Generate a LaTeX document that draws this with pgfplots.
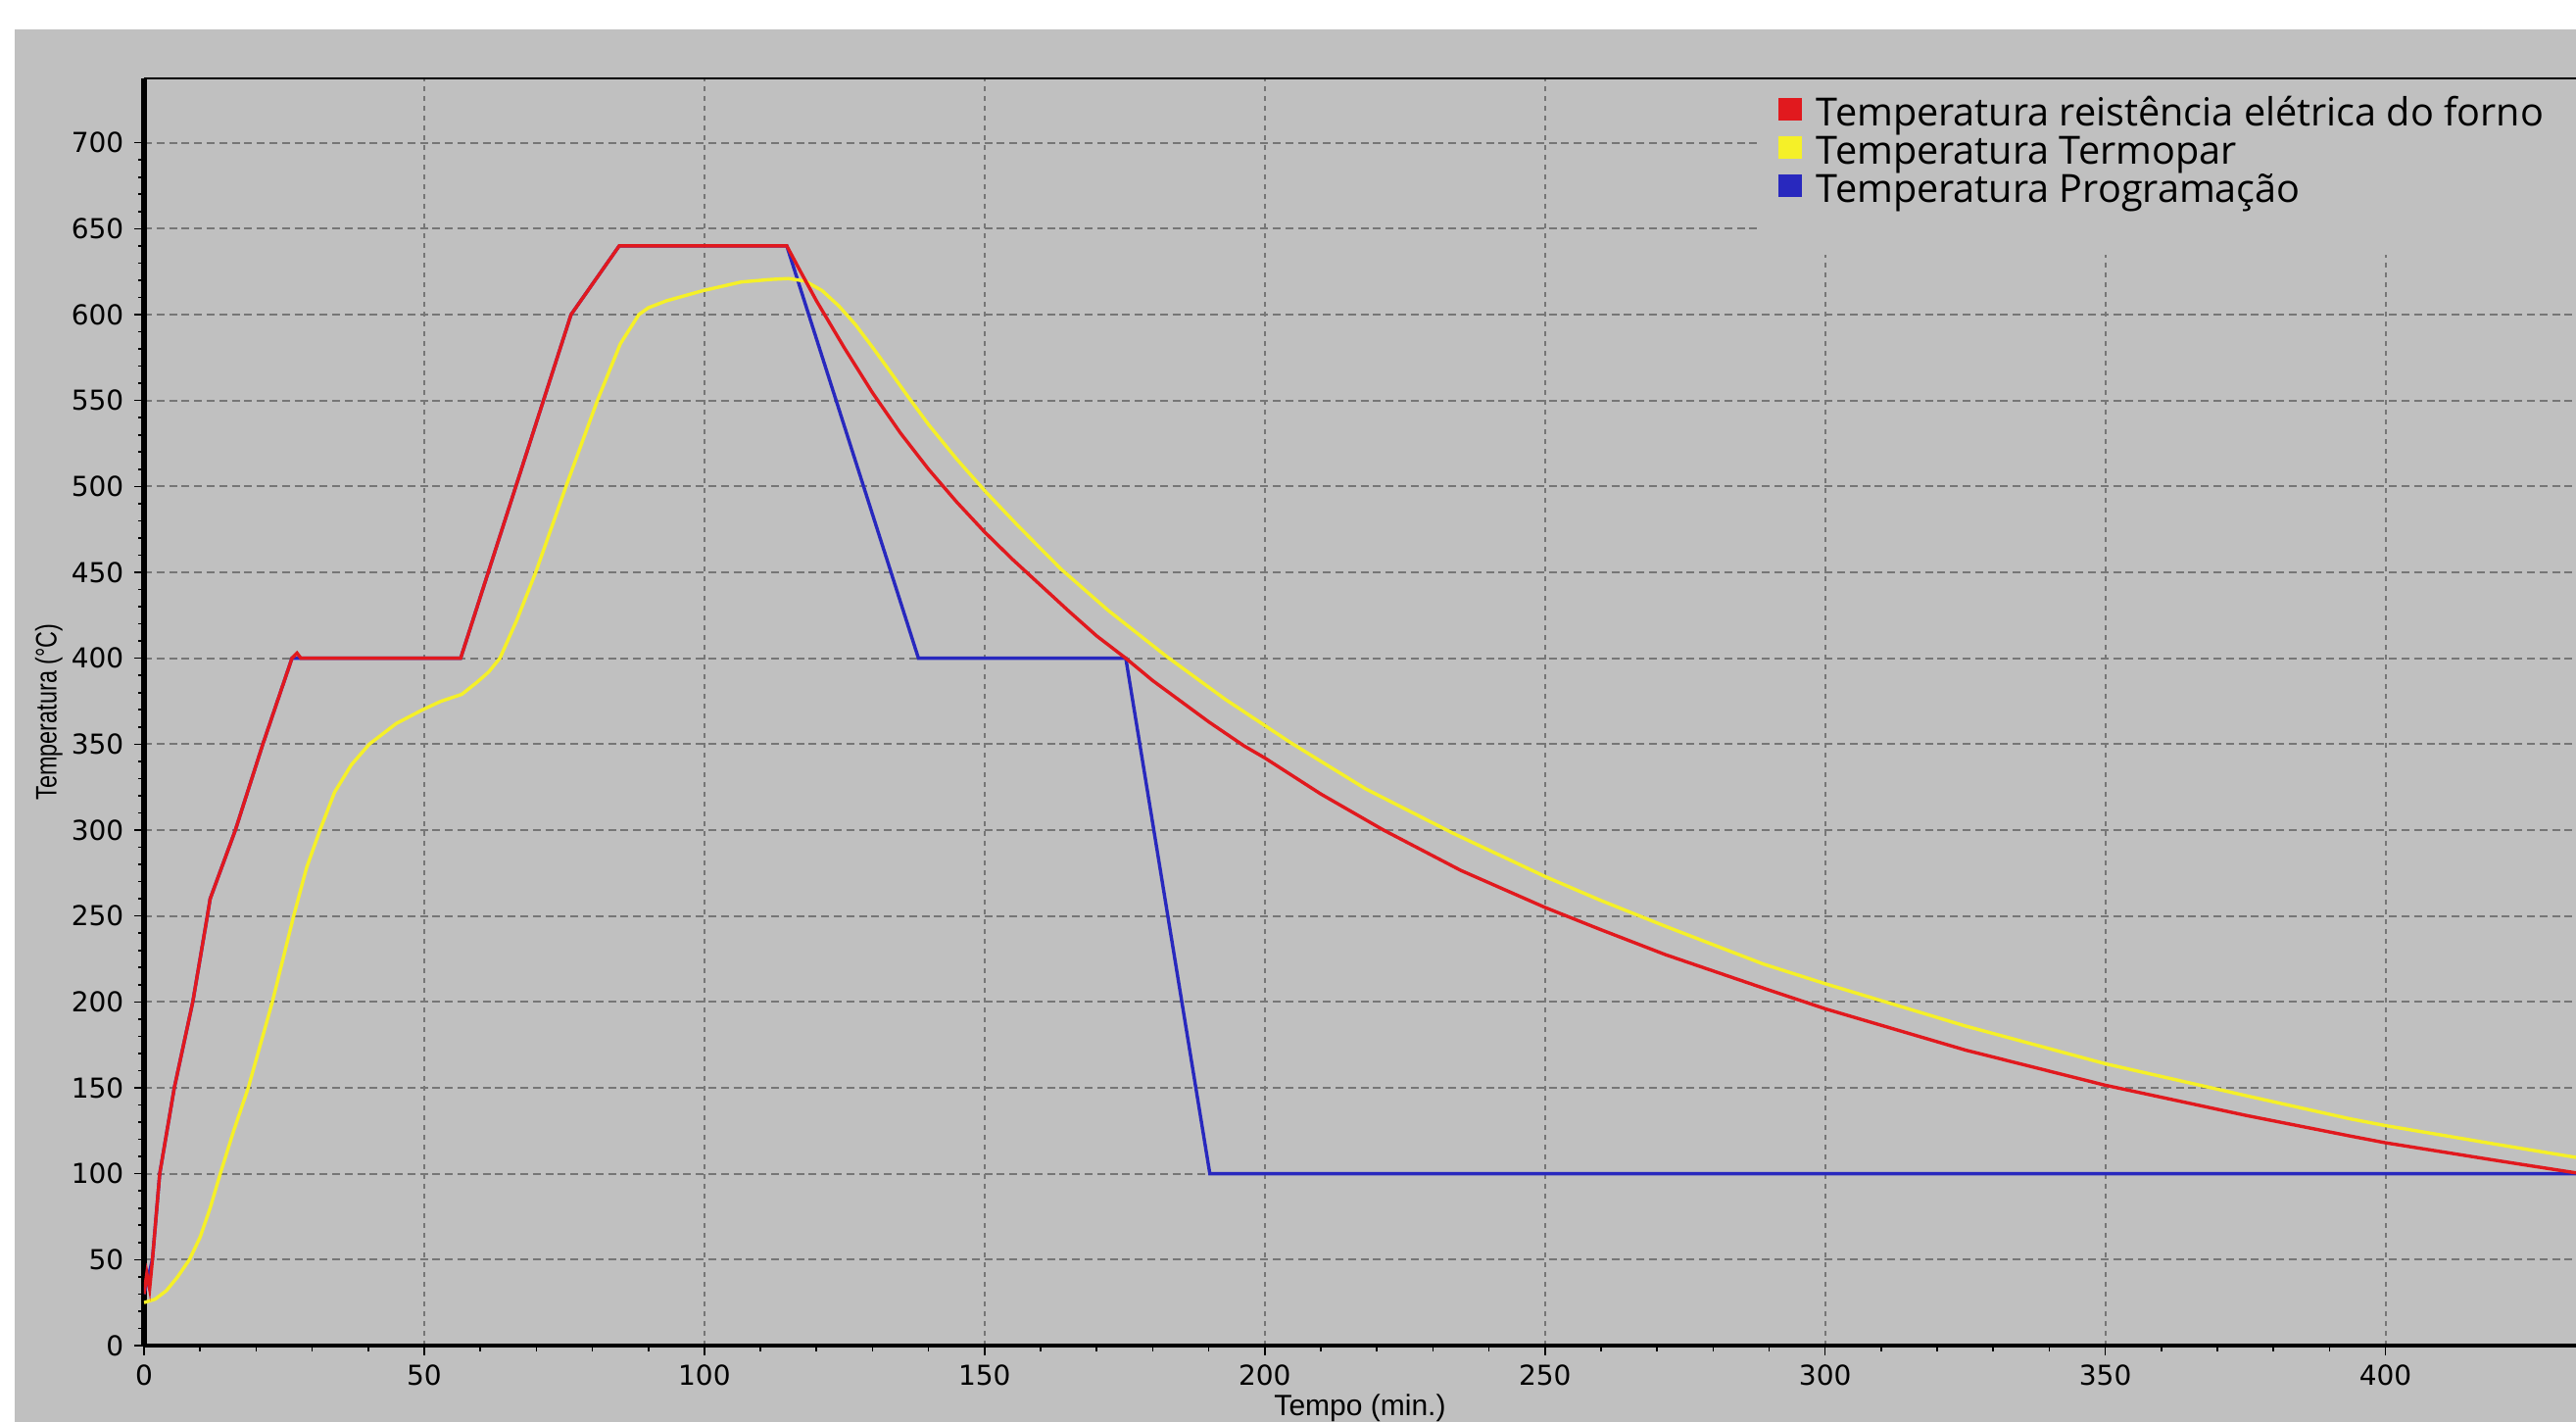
\documentclass[border=0pt]{standalone}
\usepackage{pgfplots}
\pgfplotsset{compat=1.18}
\usepackage{fontspec}
\setmainfont{Liberation Sans}
\newfontfamily\tickfont{DejaVu Sans}
\newfontfamily\legfont{Open Sans}
\definecolor{bgc}{RGB}{192,192,192}
\definecolor{gridc}{RGB}{118,118,118}
\definecolor{redl}{RGB}{225,25,30}
\definecolor{yell}{RGB}{245,240,40}
\definecolor{bluel}{RGB}{40,40,190}

\begin{document}
\begin{tikzpicture}
\path[use as bounding box, fill=white] (-36.75pt,-19.5pt) rectangle (620.5pt,343.25pt);
\fill[bgc] (-33pt,-19.5pt) rectangle (620.5pt,335.75pt);
\begin{axis}[
  at={(0,0)}, anchor=south west,
  scale only axis, width=620.5pt, height=323.25pt,
  xmin=0, xmax=434, ymin=0, ymax=737.5,
  axis x line*=bottom, axis y line*=left,
  x axis line style={-, line width=1.1pt},
  y axis line style={-, line width=1.6pt},
  xtick={0,50,...,400}, ytick={0,50,...,700},
  minor x tick num=4, minor y tick num=4,
  tick align=outside,
  major tick length=2.5pt, minor tick length=1.5pt,
  every tick/.style={black, line width=0.4pt},
  grid=major,
  major grid style={gridc, line width=0.5pt, dash pattern=on 2pt off 1.2pt},
  x grid style={dash pattern=on 1.2pt off 1.3pt},
  /pgf/number format/assume math mode=true,
  ticklabel style={font=\tickfont\fontsize{7}{8}\selectfont},
  yticklabel style={anchor=east, inner sep=0pt, xshift=-2.5pt},
  xticklabel style={anchor=north, inner sep=0pt, yshift=-2.2pt},
  xlabel={Tempo (min.)},
  ylabel={\scalebox{0.78}[1]{Temperatura (°C)}},
  label style={font=\fontsize{7.5}{9}\selectfont},
  xlabel style={at={(axis description cs:0.5,0)}, anchor=center, yshift=-16pt},
  ylabel style={at={(axis description cs:-0.0391,0.5)}, anchor=center},
  legend image code/.code={\path[draw=none, fill=none] (0pt,-0.5pt) rectangle (6pt,6.5pt);
    \fill[#1, draw=none, overlay] (0pt,-0.9pt) rectangle (6pt,4.9pt);},
  legend cell align=left,
  legend style={at={(axis description cs:0.6636,1)}, anchor=north west,
    draw=none, fill=none, inner xsep=5pt, inner ysep=3.1pt,
    font=\legfont\fontsize{9.9}{11}\selectfont, row sep=-1.65pt,
    nodes={inner sep=0pt, text height=7.2pt, text depth=2.7pt},
    /tikz/every odd column/.append style={column sep=3.75pt}},
]
\fill[bgc] (rel axis cs:0.6636,0.8608) rectangle (rel axis cs:1,1);

% Temperatura Programacao
\addplot[bluel, line width=0.85pt, forget plot] coordinates {
(0,30) (1.5,50) (2.8,100) (5.4,150) (8.7,200) (11.3,250) (11.8,260) (16.3,300) (21.2,350) (26.4,400)
(56.5,400) (76.2,600) (84.8,640) (114.7,640) (138.2,400) (175.2,400) (190.2,100) (434,100)
};

% Temperatura Termopar
\addplot[yell, line width=0.85pt, forget plot] coordinates {
(0,25) (2,27) (4,32) (6,40) (8.1,50) (10,63) (11.8,80) (13.6,100) (16,125) (18.6,150)
(22.9,200) (26.7,250) (29,278) (31.4,300) (34,322) (37,338) (40.2,350) (45,362) (49.7,370)
(53,375) (56.7,379) (59.4,386) (61.5,392) (63.5,400) (66.5,422) (69.9,450) (75.3,500)
(80.9,550) (85,583) (88.3,600) (90,604) (93.2,608) (99.8,614) (106.6,619) (112,620.5)
(115,621) (118,619.5) (121,614) (124,605) (127,594) (130,581) (133,567.5) (136.4,552)
(140,536) (145,516) (150.3,496.5) (156,477) (163.6,452) (172,428) (182.5,401) (193,376)
(204.8,350.5) (218,324) (233.7,298) (250,273) (260,259) (271.5,244) (289,222) (300,210.6)
(325,186) (350,164) (375,145.5) (393.6,132) (400,128) (420,117) (434,109.5)
};

% Temperatura resistencia eletrica do forno
\addplot[redl, line width=0.85pt, forget plot] coordinates {
(0,30) (0.5,42) (1,33) (1.5,50) (2.8,100) (5.4,150) (8.7,200) (11.3,250) (11.8,260)
(16.3,300) (21.2,350) (26.4,400) (27.3,403) (28,400) (56.5,400) (76.2,600) (84.8,640)
(114.7,640) (117,626) (120,608) (125,580.5) (130,554.5) (135,531) (140,510) (145,491)
(150,473.5) (155,457.5) (160,442.5) (165,427.5) (170,413) (175.2,400) (180,387) (185,375)
(190,363) (196.3,349) (200,342) (210,321) (221.2,300) (235,276.5) (250,255) (260,242)
(271.5,227.5) (289,208) (300,196) (325,172) (350,151.5) (375,134) (393.6,122) (400,118)
(420,107.6) (434,100.5)
};

\addlegendimage{redl}
\addlegendentry{Temperatura reistência elétrica do forno}
\addlegendimage{yell}
\addlegendentry{Temperatura Termopar}
\addlegendimage{bluel}
\addlegendentry{Temperatura Programação}

\draw[black, line width=0.7pt] (rel axis cs:0,1) -- (rel axis cs:1,1);
\end{axis}
\end{tikzpicture}
\end{document}
